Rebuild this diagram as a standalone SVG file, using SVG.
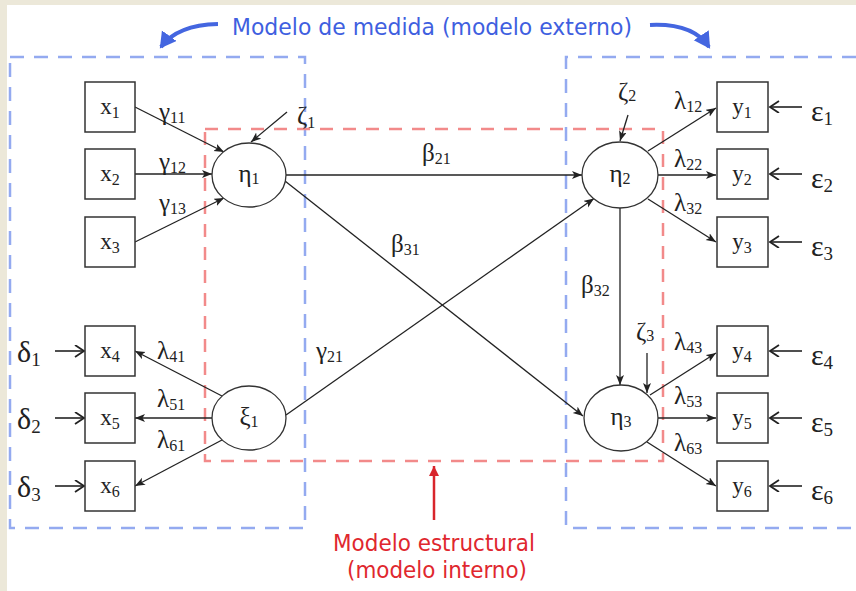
<svg xmlns="http://www.w3.org/2000/svg" width="856" height="591" viewBox="0 0 856 591">
<style>
.box{fill:#fff;stroke:#333;stroke-width:1.5}
.ell{fill:#fff;stroke:#333;stroke-width:1.3}
.lbl{font-family:"Liberation Serif","Times New Roman",serif;font-size:25px;fill:#222}
.bx{font-size:23px}
.err{font-size:30px}
.sub{font-size:16px}
.esub{font-size:19px}
.nd{text-anchor:middle}
.c{stroke:#222;stroke-width:1.3;fill:none;marker-end:url(#ah)}
.e{stroke:#222;stroke-width:1.6;fill:none;marker-end:url(#ch)}
.bd{fill:none;stroke:#94aaf0;stroke-width:2.5;stroke-dasharray:14 10}
.rd{fill:none;stroke:#f28a8a;stroke-width:2.5;stroke-dasharray:13 10}
.ttl{font-family:"DejaVu Sans",Verdana,sans-serif;font-size:23px;text-anchor:middle}
</style>
<defs>
<marker id="ah" markerUnits="userSpaceOnUse" markerWidth="11" markerHeight="9" refX="10" refY="4" orient="auto">
<path d="M0,0 L10,4 L0,8 L2.5,4 z" fill="#222"/>
</marker>
<marker id="ch" markerUnits="userSpaceOnUse" markerWidth="12" markerHeight="14" refX="10" refY="6" orient="auto">
<path d="M1,0 L10,6 L1,12" fill="none" stroke="#222" stroke-width="1.8"/>
</marker>
<marker id="ba" markerUnits="userSpaceOnUse" markerWidth="20" markerHeight="20" refX="14" refY="9" orient="auto">
<path d="M0,0 L16,9 L0,18 z" fill="#4466e0"/>
</marker>
<marker id="ra" markerUnits="userSpaceOnUse" markerWidth="12" markerHeight="12" refX="10" refY="5" orient="auto">
<path d="M0,0 L10,5 L0,10 z" fill="#d8252c"/>
</marker>
</defs>
<rect x="0" y="0" width="856" height="591" fill="#ece8d9"/>
<rect x="7" y="5" width="849" height="586" fill="#ffffff"/>

<g id="regions">
<rect class="bd" x="10" y="57" width="295" height="471"/>
<path class="bd" d="M856,57 L566,57 L566,528 L856,528"/>
<rect class="rd" x="205" y="129" width="458" height="332"/>
</g>

<g id="annotations">
<text class="ttl" x="432" y="35" fill="#3f5fe0" textLength="400" lengthAdjust="spacingAndGlyphs">Modelo de medida (modelo externo)</text>
<path d="M218,24 Q177,25 161,47" fill="none" stroke="#4466e0" stroke-width="4" marker-end="url(#ba)"/>
<path d="M650,25 Q693,23 709,47" fill="none" stroke="#4466e0" stroke-width="4" marker-end="url(#ba)"/>
<path d="M434,520 L434,466" fill="none" stroke="#d8252c" stroke-width="2.5" marker-end="url(#ra)"/>
<text class="ttl" x="434" y="551" fill="#e0272e" textLength="202" lengthAdjust="spacingAndGlyphs">Modelo estructural</text>
<text class="ttl" x="437" y="578" fill="#e0272e" textLength="180" lengthAdjust="spacingAndGlyphs">(modelo interno)</text>
</g>

<g id="connectors">
<line class="c" x1="135" y1="107" x2="224" y2="152"/>
<line class="c" x1="135" y1="174" x2="212" y2="174"/>
<line class="c" x1="135" y1="242" x2="224" y2="198"/>
<line class="c" x1="287" y1="112" x2="251" y2="142"/>
<line class="c" x1="286" y1="175" x2="582" y2="175"/>
<line class="c" x1="285" y1="181" x2="583" y2="416"/>
<line class="c" x1="286" y1="415" x2="594" y2="198.5"/>
<line class="c" x1="222" y1="396" x2="135" y2="351"/>
<line class="c" x1="212" y1="418" x2="135" y2="418"/>
<line class="c" x1="222" y1="440" x2="135" y2="486"/>
<line class="e" x1="55" y1="351" x2="84" y2="351"/>
<line class="e" x1="55" y1="418" x2="84" y2="418"/>
<line class="e" x1="55" y1="486" x2="84" y2="486"/>
<line class="c" x1="628" y1="115" x2="620" y2="141"/>
<line class="c" x1="648" y1="151" x2="716" y2="108"/>
<line class="c" x1="658" y1="175" x2="716" y2="175"/>
<line class="c" x1="648" y1="199" x2="716" y2="242"/>
<line class="c" x1="620" y1="208" x2="620" y2="385"/>
<line class="c" x1="647" y1="353" x2="647" y2="393"/>
<line class="c" x1="650" y1="395" x2="716" y2="353"/>
<line class="c" x1="658" y1="418" x2="716" y2="418"/>
<line class="c" x1="647" y1="442" x2="716" y2="486"/>
<line class="e" x1="802" y1="107" x2="770" y2="107"/>
<line class="e" x1="802" y1="174" x2="770" y2="174"/>
<line class="e" x1="802" y1="242" x2="770" y2="242"/>
<line class="e" x1="802" y1="351" x2="770" y2="351"/>
<line class="e" x1="802" y1="418" x2="770" y2="418"/>
<line class="e" x1="802" y1="486" x2="770" y2="486"/>
</g>

<g id="edge-labels" class="lbl">
<text x="159" y="120">γ<tspan class="sub" dy="3">11</tspan></text>
<text x="159" y="170">γ<tspan class="sub" dy="3">12</tspan></text>
<text x="159" y="211">γ<tspan class="sub" dy="3">13</tspan></text>
<text x="297" y="124">ζ<tspan class="sub" dy="4">1</tspan></text>
<text x="157" y="359">λ<tspan class="sub" dy="3">41</tspan></text>
<text x="157" y="407">λ<tspan class="sub" dy="3">51</tspan></text>
<text x="157" y="448">λ<tspan class="sub" dy="3">61</tspan></text>
<text x="422" y="161">β<tspan class="sub" dy="3">21</tspan></text>
<text x="391" y="252">β<tspan class="sub" dy="3">31</tspan></text>
<text x="316" y="359">γ<tspan class="sub" dy="3">21</tspan></text>
<text x="581" y="293">β<tspan class="sub" dy="3">32</tspan></text>
<text x="618" y="100">ζ<tspan class="sub" dy="1">2</tspan></text>
<text x="636" y="340">ζ<tspan class="sub" dy="1">3</tspan></text>
<text x="674" y="109">λ<tspan class="sub" dy="3">12</tspan></text>
<text x="674" y="167">λ<tspan class="sub" dy="3">22</tspan></text>
<text x="674" y="211">λ<tspan class="sub" dy="3">32</tspan></text>
<text x="674" y="350">λ<tspan class="sub" dy="3">43</tspan></text>
<text x="674" y="404">λ<tspan class="sub" dy="3">53</tspan></text>
<text x="674" y="451">λ<tspan class="sub" dy="3">63</tspan></text>
<g class="err">
<text x="17" y="362">δ<tspan class="esub" dy="4">1</tspan></text>
<text x="17" y="429">δ<tspan class="esub" dy="4">2</tspan></text>
<text x="17" y="497">δ<tspan class="esub" dy="4">3</tspan></text>
<text x="811" y="121">ε<tspan class="esub" dy="4">1</tspan></text>
<text x="811" y="188">ε<tspan class="esub" dy="4">2</tspan></text>
<text x="811" y="256">ε<tspan class="esub" dy="4">3</tspan></text>
<text x="811" y="365">ε<tspan class="esub" dy="4">4</tspan></text>
<text x="811" y="432">ε<tspan class="esub" dy="4">5</tspan></text>
<text x="811" y="500">ε<tspan class="esub" dy="4">6</tspan></text>
</g>
</g>

<g id="x1"><rect class="box" x="85" y="82" width="50" height="50"/><text class="lbl bx nd" x="110" y="114">x<tspan class="sub" dy="4">1</tspan></text></g>
<g id="x2"><rect class="box" x="85" y="149" width="50" height="50"/><text class="lbl bx nd" x="110" y="181">x<tspan class="sub" dy="4">2</tspan></text></g>
<g id="x3"><rect class="box" x="85" y="217" width="50" height="50"/><text class="lbl bx nd" x="110" y="249">x<tspan class="sub" dy="4">3</tspan></text></g>
<g id="x4"><rect class="box" x="85" y="326" width="50" height="50"/><text class="lbl bx nd" x="110" y="358">x<tspan class="sub" dy="4">4</tspan></text></g>
<g id="x5"><rect class="box" x="85" y="393" width="50" height="50"/><text class="lbl bx nd" x="110" y="425">x<tspan class="sub" dy="4">5</tspan></text></g>
<g id="x6"><rect class="box" x="85" y="461" width="50" height="50"/><text class="lbl bx nd" x="110" y="493">x<tspan class="sub" dy="4">6</tspan></text></g>

<g id="eta1"><ellipse class="ell" cx="249" cy="175" rx="37" ry="32"/><text class="lbl nd" x="249" y="182">η<tspan class="sub" dy="2">1</tspan></text></g>
<g id="xi1"><ellipse class="ell" cx="249" cy="418" rx="37" ry="32"/><text class="lbl nd" x="249" y="425">ξ<tspan class="sub" dy="2">1</tspan></text></g>
<g id="eta2"><ellipse class="ell" cx="620" cy="175" rx="38" ry="33"/><text class="lbl nd" x="620" y="182">η<tspan class="sub" dy="2">2</tspan></text></g>
<g id="eta3"><ellipse class="ell" cx="621" cy="418" rx="37" ry="33"/><text class="lbl nd" x="621" y="425">η<tspan class="sub" dy="2">3</tspan></text></g>

<g id="y1"><rect class="box" x="717" y="82" width="51" height="50"/><text class="lbl bx nd" x="742" y="114">y<tspan class="sub" dy="4">1</tspan></text></g>
<g id="y2"><rect class="box" x="717" y="149" width="51" height="50"/><text class="lbl bx nd" x="742" y="181">y<tspan class="sub" dy="4">2</tspan></text></g>
<g id="y3"><rect class="box" x="717" y="217" width="51" height="50"/><text class="lbl bx nd" x="742" y="249">y<tspan class="sub" dy="4">3</tspan></text></g>
<g id="y4"><rect class="box" x="717" y="326" width="51" height="50"/><text class="lbl bx nd" x="742" y="358">y<tspan class="sub" dy="4">4</tspan></text></g>
<g id="y5"><rect class="box" x="717" y="393" width="51" height="50"/><text class="lbl bx nd" x="742" y="425">y<tspan class="sub" dy="4">5</tspan></text></g>
<g id="y6"><rect class="box" x="717" y="461" width="51" height="50"/><text class="lbl bx nd" x="742" y="493">y<tspan class="sub" dy="4">6</tspan></text></g>
</svg>
